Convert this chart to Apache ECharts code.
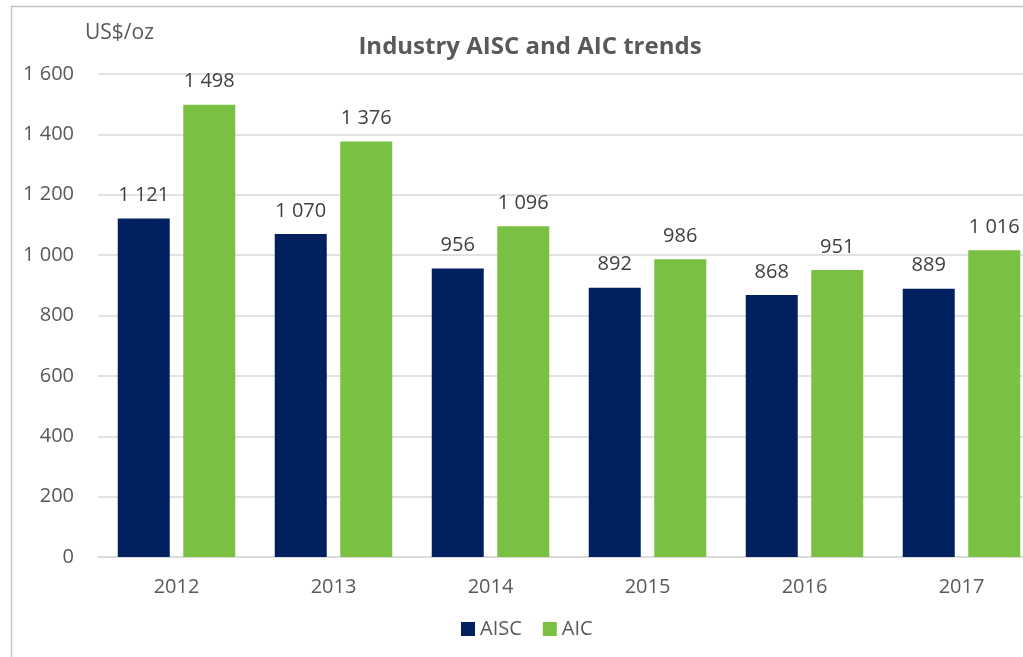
<!DOCTYPE html>
<html>
<head>
<meta charset="utf-8">
<script src="https://cdn.jsdelivr.net/npm/echarts@6/dist/echarts.min.js"></script>
<style>
  html, body { margin: 0; padding: 0; background: #fff; }
  #chart { width: 1023px; height: 657px; }
</style>
</head>
<body>
<div id="chart"></div>
<script>
const years = ['2012', '2013', '2014', '2015', '2016', '2017']
const aisc = [1121, 1070, 956, 892, 868, 889]
const aic = [1498, 1376, 1096, 986, 951, 1016]
const yTicks = [0, 200, 400, 600, 800, 1000, 1200, 1400, 1600]

const font = '"Open Sans", "Noto Sans", sans-serif'
const textColor = '#595959'

// 1 498 style, space as thousands separator
const fmt = v => String(v).replace(/\B(?=(\d{3})+(?!\d))/g, ' ')

const chart = echarts.init(document.getElementById('chart'))

const barLabel = {
  show: true,
  position: 'top',
  distance: 13,
  color: '#404040',
  fontFamily: font,
  fontSize: 20,
  formatter: p => fmt(p.value)
}

chart.setOption({
  animation: false,
  title: {
    text: 'Industry AISC and AIC trends',
    left: 525,
    textAlign: 'center',
    top: 30,
    textStyle: { color: textColor, fontFamily: font, fontSize: 24, fontWeight: 'bold' }
  },
  legend: {
    bottom: 13,
    left: 456,
    icon: 'rect',
    itemWidth: 14,
    itemHeight: 14,
    itemGap: 21,
    textStyle: { color: textColor, fontFamily: font, fontSize: 20 }
  },
  grid: { left: 98, top: 74, width: 942, height: 483, outerBoundsMode: 'none', containLabel: false },
  graphic: [
    {
      type: 'rect',
      shape: { x: 11.5, y: 6.5, width: 1100, height: 700 },
      style: { fill: 'none', stroke: '#c4c4c4', lineWidth: 1.5 },
      silent: true
    },
    {
      type: 'text',
      left: 85,
      top: 23,
      style: { text: 'US$/oz', fill: textColor, font: '21px ' + font }
    }
  ],
  xAxis: {
    type: 'category',
    data: years,
    axisTick: { show: false },
    axisLine: { lineStyle: { color: '#d9d9d9', width: 1.5 } },
    axisLabel: { color: textColor, fontFamily: font, fontSize: 20, margin: 20 }
  },
  yAxis: {
    type: 'value',
    min: yTicks[0],
    max: yTicks[yTicks.length - 1],
    interval: 200,
    axisLine: { show: false },
    axisTick: { show: false },
    splitLine: { lineStyle: { color: '#d9d9d9', width: 1.5 } },
    axisLabel: { color: textColor, fontFamily: font, fontSize: 20, margin: 24, formatter: fmt }
  },
  series: [
    {
      name: 'AISC',
      type: 'bar',
      data: aisc,
      barWidth: 52,
      barGap: '26%',
      itemStyle: { color: '#002060' },
      label: barLabel
    },
    {
      name: 'AIC',
      type: 'bar',
      data: aic,
      barWidth: 52,
      itemStyle: { color: '#7AC143' },
      label: barLabel
    }
  ]
})
</script>
</body>
</html>
